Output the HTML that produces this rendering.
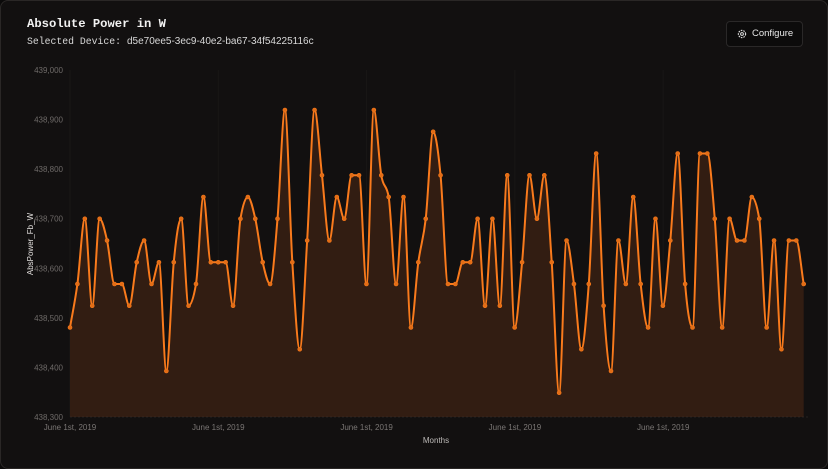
<!DOCTYPE html>
<html><head><meta charset="utf-8"><style>
html,body{margin:0;padding:0;background:#0b0a0a;}
.card{position:absolute;left:0;top:0;width:826px;height:467px;border:1px solid #2a2726;border-radius:8px;background:#121010;overflow:hidden;font-family:"Liberation Sans",sans-serif;}
.t1{position:absolute;left:26px;top:16px;font-family:"Liberation Mono",monospace;font-weight:bold;font-size:12.2px;color:#f2f2f2;}
.t2{position:absolute;left:26px;top:35px;font-family:"Liberation Mono",monospace;font-size:9.8px;color:#d8d8d8;}
.t2 span{font-family:"Liberation Sans",sans-serif;font-size:10px;}
.btn{position:absolute;left:725px;top:20px;width:75px;height:24px;border:1px solid #2a2828;border-radius:4px;background:#0c0b0b;color:#e8e8e8;font-size:9.5px;line-height:24px;}
.btn span{position:absolute;left:25px;}
</style></head><body>
<div class="card">
<div class="t1">Absolute Power in W</div>
<div class="t2">Selected Device: <span>d5e70ee5-3ec9-40e2-ba67-34f54225116c</span></div>
<div class="btn"><svg width="10" height="10" viewBox="0 0 10 10" style="position:absolute;left:10px;top:7px"><circle cx="5" cy="5" r="3.6" fill="none" stroke="#ddd" stroke-width="1.2" stroke-dasharray="1.6 1"/><circle cx="5" cy="5" r="1.4" fill="none" stroke="#ddd" stroke-width="1"/></svg><span>Configure</span></div>
<svg id="ch" width="828" height="469" style="position:absolute;left:-1px;top:-1px" font-family="Liberation Sans, sans-serif"></svg>
</div>
<script>
var K=[10,8,5,9,5,6,8,8,9,7,6,8,7,12,7,5,9,8,4,7,7,7,9,5,4,5,7,8,5,0,7,11,6,0,3,6,4,5,3,3,8,0,3,4,8,4,10,7,5,1,3,8,8,7,7,5,9,5,9,3,10,7,3,5,3,7,13,6,8,11,8,2,9,12,6,8,4,8,10,5,9,6,2,8,10,2,2,5,10,5,6,6,4,5,10,6,11,6,6,8];
var n=K.length,x0=70,x1=803.7,dx=(x1-x0)/(n-1);
var X=[],Y=[];for(var i=0;i<n;i++){X.push(x0+i*dx);Y.push(110+K[i]*21.75);}
var m=[],s=[];for(i=0;i<n-1;i++)s.push((Y[i+1]-Y[i])/dx);
for(i=0;i<n;i++){if(i==0)m.push(s[0]);else if(i==n-1)m.push(s[n-2]);else{var a=s[i-1],b=s[i];if(a*b<=0)m.push(0);else{var p=(a+b)/2;m.push((Math.sign(a)+Math.sign(b))*Math.min(Math.abs(a),Math.abs(b),0.5*Math.abs(p)));}}}
var d="M"+X[0]+","+Y[0];
for(i=0;i<n-1;i++){var h=dx/3;d+="C"+(X[i]+h)+","+(Y[i]+m[i]*h)+" "+(X[i+1]-h)+","+(Y[i+1]-m[i+1]*h)+" "+X[i+1]+","+Y[i+1];}
var g='';
var yl=['439,000','438,900','438,800','438,700','438,600','438,500','438,400','438,300'];
for(i=0;i<8;i++){var yy=70+i*49.57;g+='<text x="63" y="'+(yy+3)+'" font-size="8" fill="#6e6a68" text-anchor="end">'+yl[i]+'</text>';}
for(i=0;i<5;i++){var xx=70+i*148.3;g+='<line x1="'+xx+'" y1="70" x2="'+xx+'" y2="417" stroke="#191716" stroke-width="1"/>';g+='<text x="'+xx+'" y="430" font-size="8" fill="#7a7674" text-anchor="middle">June 1st, 2019</text>';}
g+='<path d="'+d+'L'+X[n-1]+',417L'+X[0]+',417Z" fill="#321d12"/>';
g+='<path d="'+d+'" fill="none" stroke="#f97a1c" stroke-width="2"/>';
for(i=0;i<n;i++)g+='<circle cx="'+X[i]+'" cy="'+Y[i]+'" r="2" fill="#e26d16" stroke="#f97a1c" stroke-width="0.6"/>';
g+='<line x1="70" y1="417" x2="808" y2="417" stroke="#3a3533" stroke-width="0.6" stroke-dasharray="2 2"/>';
g+='<text x="436" y="443" font-size="8" fill="#bdbab8" text-anchor="middle">Months</text>';
g+='<text transform="translate(33,244) rotate(-90)" font-size="8" fill="#e0dddb" text-anchor="middle">AbsPower_Fb_W</text>';
document.getElementById('ch').innerHTML=g;
</script>
</body></html>
